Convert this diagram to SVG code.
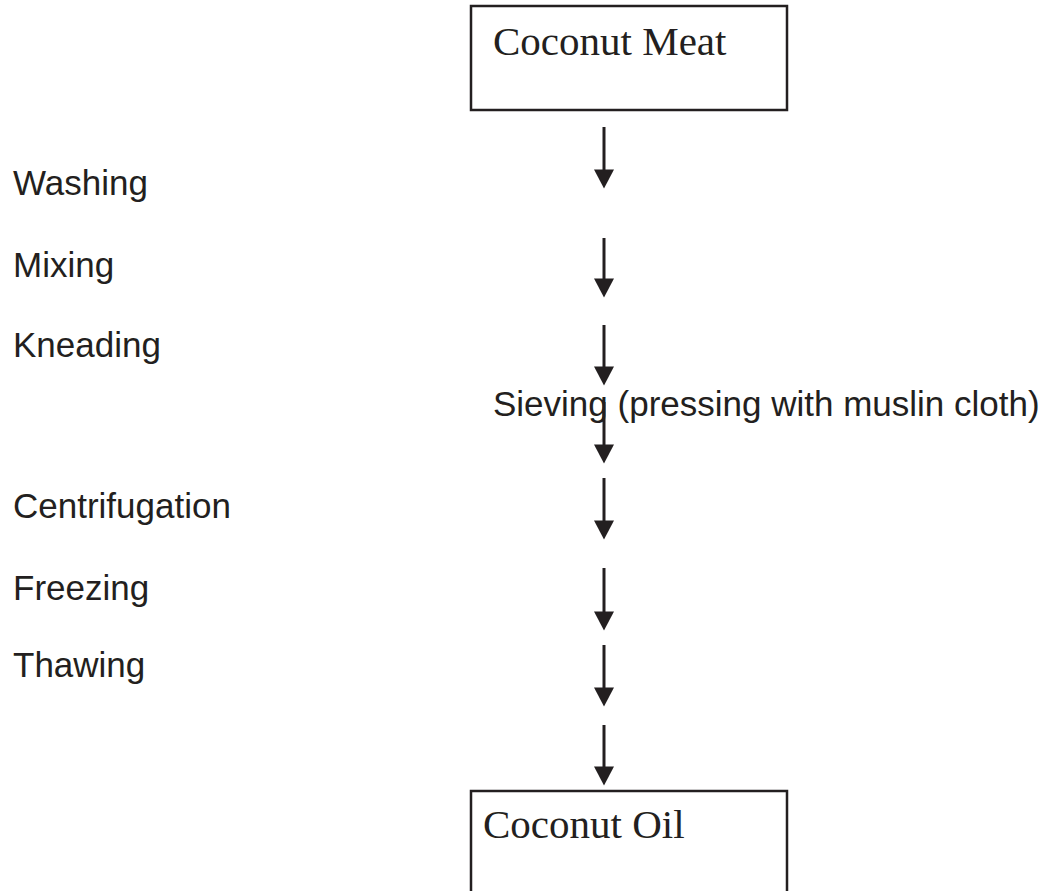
<svg xmlns="http://www.w3.org/2000/svg" width="1057" height="891" viewBox="0 0 1057 891">
<style>
.box{fill:none;stroke:#231f20;stroke-width:2.5}
.serif{font-family:"Liberation Serif","Times New Roman",serif;font-size:41px;fill:#231f20}
.sans{font-family:"Liberation Sans",Arial,sans-serif;font-size:35px;fill:#231f20}
.conn line{stroke:#231f20;stroke-width:3;marker-end:url(#ah)}
</style>
<defs>
<marker id="ah" markerUnits="userSpaceOnUse" markerWidth="20" markerHeight="20" viewBox="0 0 18 19" refX="8" refY="9.5" orient="auto">
<path d="M0,0 L18,9.5 L0,19 z" fill="#231f20"/>
</marker>
</defs>
<rect width="1057" height="891" fill="#fff"/>
<g id="coconut-meat">
<rect class="box" x="471" y="6" width="316" height="104"/>
<text class="serif" x="493" y="55">Coconut Meat</text>
</g>
<g id="coconut-oil">
<path class="box" d="M471,895 V791 H787 V895"/>
<text class="serif" x="483" y="838">Coconut Oil</text>
</g>
<g id="labels">
<text class="sans" x="13" y="195">Washing</text>
<text class="sans" x="13" y="277">Mixing</text>
<text class="sans" x="13" y="357">Kneading</text>
<text class="sans" x="493" y="416">Sieving (pressing with muslin cloth)</text>
<text class="sans" x="13" y="518">Centrifugation</text>
<text class="sans" x="13" y="600">Freezing</text>
<text class="sans" x="13" y="677">Thawing</text>
</g>
<g id="connectors" class="conn">
<line x1="604" y1="127" x2="604" y2="178"/>
<line x1="604" y1="238" x2="604" y2="287"/>
<line x1="604" y1="325" x2="604" y2="375"/>
<line x1="604" y1="402" x2="604" y2="453"/>
<line x1="604" y1="478" x2="604" y2="529"/>
<line x1="604" y1="568" x2="604" y2="620"/>
<line x1="604" y1="645" x2="604" y2="696"/>
<line x1="604" y1="725" x2="604" y2="775"/>
</g>
</svg>
